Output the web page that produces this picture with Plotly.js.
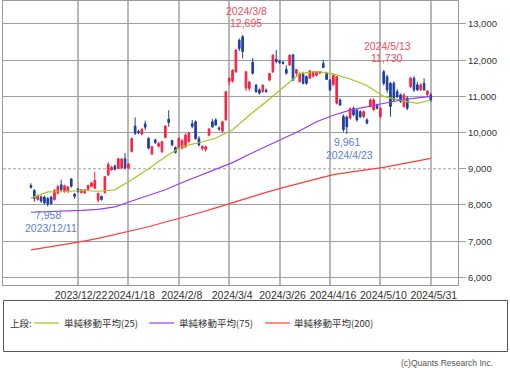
<!DOCTYPE html>
<html><head><meta charset="utf-8">
<script src="https://cdn.plot.ly/plotly-3.0.1.min.js"></script>
<style>html,body{margin:0;padding:0;background:#fff;}#chart{width:510px;height:368px;}</style>
</head><body><div id="chart"></div>
<script>
const dates = [
'2023-12-04','2023-12-05','2023-12-06','2023-12-07','2023-12-08','2023-12-11','2023-12-12','2023-12-13','2023-12-14','2023-12-15',
'2023-12-18','2023-12-19','2023-12-20','2023-12-21','2023-12-22','2023-12-25','2023-12-26','2023-12-27','2023-12-28','2023-12-29',
'2024-01-04','2024-01-05','2024-01-09','2024-01-10','2024-01-11','2024-01-12','2024-01-15','2024-01-16','2024-01-17','2024-01-18',
'2024-01-19','2024-01-22','2024-01-23','2024-01-24','2024-01-25','2024-01-26','2024-01-29','2024-01-30','2024-01-31','2024-02-01',
'2024-02-02','2024-02-05','2024-02-06','2024-02-07','2024-02-08','2024-02-09','2024-02-13','2024-02-14','2024-02-15','2024-02-16',
'2024-02-19','2024-02-20','2024-02-21','2024-02-22','2024-02-26','2024-02-27','2024-02-28','2024-02-29','2024-03-01','2024-03-04',
'2024-03-05','2024-03-06','2024-03-07','2024-03-08','2024-03-11','2024-03-12','2024-03-13','2024-03-14','2024-03-15','2024-03-18',
'2024-03-19','2024-03-21','2024-03-22','2024-03-25','2024-03-26','2024-03-27','2024-03-28','2024-03-29','2024-04-01','2024-04-02',
'2024-04-03','2024-04-04','2024-04-05','2024-04-08','2024-04-09','2024-04-10','2024-04-11','2024-04-12','2024-04-15','2024-04-16',
'2024-04-17','2024-04-18','2024-04-19','2024-04-22','2024-04-23','2024-04-24','2024-04-25','2024-04-26','2024-04-30','2024-05-01',
'2024-05-02','2024-05-07','2024-05-08','2024-05-09','2024-05-10','2024-05-13','2024-05-14','2024-05-15','2024-05-16','2024-05-17',
'2024-05-20','2024-05-21','2024-05-22','2024-05-23','2024-05-24','2024-05-27','2024-05-28','2024-05-29','2024-05-30','2024-05-31'];

const openP = [8540,8400,8150,8230,8220,8180,8220,8150,8320,8560, 8380,8370,8720,8300,8440,8340,8330,8420,8510,8460,
 8130,8240,8340,8830,8970,9080,9010,9020,9280,9020, 9480,10180,10030,9960,10240,9840,9410,9800,9620,9470,
 9870,10370,9780,9590,9570,9570,9610,9750,10250,10300, 9840,9560,9530,9930,10300,10350,10130,10040,10350,11400,
 11420,11680,12550,12650,11230,11220,11940,11310,11180,11130, 11170,11450,11680,12030,11980,11940,11750,11870,12150,11640,
 11410,11620,11550,11500,11560,11580,11640,11910,11640,11450, 11320,10810,10900,10450,10430,10400,10670,10620,10580,10440,
 10350,10720,10630,10760,10440,11680,11540,11360,11360,11130, 11040,10720,10950,11270,11500,11320,11180,11360,11050,11040];
const highP = [8600,8440,8290,8260,8260,8220,8250,8440,8560,8700, 8560,8530,8740,8330,8470,8440,8440,8560,8640,8920,
 8340,8260,8800,9180,9080,9120,9300,9300,9430,9160, 9860,10420,10080,10120,10330,9870,9640,9830,9740,9770,
 10200,10620,9800,9620,9870,9820,9980,10020,10350,10340, 9900,9650,9640,10120,10380,10400,10170,10330,11150,11520,
 11750,12300,12600,12695,11700,11420,12060,11340,11220,11330, 11220,11650,12150,12280,12010,11980,11860,12150,12160,11760,
 11660,11680,11580,11720,11690,11680,11700,12010,11680,11480, 11600,11560,10950,10500,10470,10700,10720,10650,10620,10610,
 10400,10940,10950,10800,10700,11730,11600,11400,11420,11200, 11080,11080,11000,11540,11560,11400,11360,11500,11180,11100];
const lowP = [8450,8090,8120,8060,8010,7958,8000,8120,8300,8380, 8340,8330,8480,8170,8340,8320,8310,8400,8490,8440,
 8070,8120,8320,8800,8950,8960,8990,8990,8990,8990, 9450,9930,9960,9920,10070,9540,9380,9690,9590,9440,
 9840,10160,9620,9420,9540,9540,9580,9720,10120,9800, 9620,9500,9470,9900,10130,10190,10050,10000,10330,11300,
 11380,11650,12250,12050,11150,11150,11600,11100,11050,11100, 11100,11420,11650,11910,11900,11880,11600,11840,11420,11560,
 11380,11330,11320,11480,11520,11550,11620,11780,11450,11150, 11300,10780,10740,10020,9961,10360,10450,10300,10400,10400,
 10230,10690,10600,10640,10400,11300,11100,10440,10850,10950, 10820,10680,10620,11230,11120,11150,11150,11150,11000,10850];
const closeP = [8490,8180,8260,8110,8060,8030,8040,8400,8510,8420, 8530,8500,8520,8240,8370,8420,8420,8540,8610,8680,
 8320,8150,8780,9120,9040,8990,9280,9270,9020,9130, 9840,9980,9990,10090,10150,9570,9610,9720,9700,9750,
 10180,10280,9660,9450,9840,9780,9930,9990,10170,9840, 9660,9620,9610,10100,10160,10210,10100,10300,11130,11500,
 11720,12280,12320,12240,11680,11400,11640,11130,11090,11310, 11130,11630,12140,11960,11940,11910,11640,12140,11450,11740,
 11640,11360,11360,11710,11680,11660,11680,11800,11470,11180, 11590,11540,10760,10080,10160,10660,10490,10350,10440,10580,
 10260,10900,10900,10670,10670,11360,11180,10720,10900,10990, 10860,11040,10670,11500,11180,11180,11320,11180,11140,10900];

const maIdx = [0,5,10,15,20,25,30,35,40,45,50,55,60,65,70,75,80,85,90,95,100,105,110,115,119];
const ma25  = [8190,8360,8370,8400,8380,8420,8700,9000,9330,9620,9720,9850,10080,10480,10850,11230,11630,11690,11620,11480,11300,11000,10890,10810,10900];
const ma75  = [7800,7810,7830,7850,7880,7950,8110,8270,8420,8620,8800,8980,9170,9400,9620,9830,10050,10300,10480,10620,10710,10820,10900,10960,11000];
const ma200 = [6760,6830,6910,6990,7080,7180,7280,7400,7530,7650,7780,7920,8070,8200,8350,8480,8600,8730,8840,8910,8970,9040,9130,9210,9290];

const tickDates = ['2023-12-22','2024-01-18','2024-02-08','2024-03-04','2024-03-26','2024-04-16','2024-05-10','2024-05-31'];
const yTicks = [6000,7000,8000,9000,10000,11000,12000,13000];
const marks = [
  {date:'2024-03-08', kind:'high'},
  {date:'2024-05-13', kind:'high'},
  {date:'2024-04-23', kind:'low'},
  {date:'2023-12-11', kind:'low'}
];
const legendNames = ['単純移動平均(25)','単純移動平均(75)','単純移動平均(200)'];
const maColors = ['#9ccc1c','#9a3cf0','#ff3c3c'];

const W=510,H=368,M={l:3,r:52,t:1,b:83};
const pw=W-M.l-M.r, ph=H-M.t-M.b;
const px=v=>(v-M.l)/pw, py=v=>(H-M.b-v)/ph;
const fmtDate=d=>{const p=d.split('-');return p[0]+'/'+(+p[1])+'/'+(+p[2]);};
const fmtNum=v=>v.toLocaleString('en-US');
const FONT='Liberation Sans, Arial, sans-serif';
const CJK='Noto Sans CJK JP, sans-serif';

const traces=[{
  type:'candlestick', x:dates, open:openP, high:highP, low:lowP, close:closeP,
  increasing:{line:{color:'#ff2040',width:1},fillcolor:'#ff2040'},
  decreasing:{line:{color:'#1f3f9f',width:1},fillcolor:'#1f3f9f'},
  whiskerwidth:0, showlegend:false, hoverinfo:'skip'
}];
[ma25,ma75,ma200].forEach((arr,k)=>{
  traces.push({type:'scatter',mode:'lines',x:maIdx.map(i=>dates[i]),y:arr,
    line:{color:maColors[k],width:1.2},showlegend:false,hoverinfo:'skip'});
});

const annotations=[];
marks.forEach(m=>{
  const i=dates.indexOf(m.date);
  const hi=m.kind==='high';
  const val=hi?highP[i]:lowP[i];
  const col=hi?'#f04d5e':'#5b80d8';
  const base={xref:'x',yref:'y',x:m.date,y:val,showarrow:false,font:{family:FONT,size:10.5,color:col},xanchor:'center',yanchor:'middle'};
  annotations.push(Object.assign({},base,{text:fmtNum(val),yshift:hi?12:-8,xshift:hi?3:0}));
  annotations.push(Object.assign({},base,{text:fmtDate(m.date),yshift:hi?24:-21,xshift:hi?4:3}));
});
annotations.push({xref:'paper',yref:'paper',x:px(8),y:py(323),xanchor:'left',yanchor:'middle',showarrow:false,text:'上段:',font:{family:CJK,size:9.5,color:'#333'}});
const legLineX=[34,149,265], legTextX=[62,177,292];
legendNames.forEach((n,k)=>{
  annotations.push({xref:'paper',yref:'paper',x:px(legTextX[k]),y:py(323),xanchor:'left',yanchor:'middle',showarrow:false,text:n,font:{family:CJK,size:9.5,color:'#333'}});
});
annotations.push({xref:'paper',yref:'paper',x:px(495),y:py(363),xanchor:'right',yanchor:'middle',showarrow:false,text:'(c)Quants Research Inc.',font:{family:FONT,size:8.5,color:'#555'}});

const shapes=[
  {type:'line',xref:'paper',yref:'y',x0:0,x1:1,y0:9000,y1:9000,layer:'below',line:{color:'#a0a0a0',width:1,dash:'3px,2px'}},
  {type:'rect',xref:'paper',yref:'paper',x0:px(3.5),x1:px(507.5),y0:py(300.5),y1:py(351.5),line:{color:'#555',width:1},fillcolor:'rgba(0,0,0,0)'}
];
legLineX.forEach((x0,k)=>{
  shapes.push({type:'line',xref:'paper',yref:'paper',x0:px(x0),x1:px(x0+25),y0:py(323),y1:py(323),line:{color:maColors[k],width:1.2}});
});

const yr=[5790,13635];
const layout={
  width:W,height:H,margin:M,paper_bgcolor:'#fff',plot_bgcolor:'#fff',
  font:{family:FONT,color:'#333'},showlegend:false,hovermode:false,
  xaxis:{type:'category',categoryorder:'trace',range:[-8.32,127.1],rangeslider:{visible:false},
    tickvals:tickDates,ticktext:tickDates.map(fmtDate),tickangle:0,ticks:'',ticklabelshift:3,
    showgrid:true,gridcolor:'#b8b8b8',gridwidth:2,showline:true,mirror:true,linecolor:'#999',linewidth:1,
    tickfont:{family:FONT,size:10.5,color:'#333'},zeroline:false,fixedrange:true},
  yaxis:{range:yr,side:'right',tickvals:yTicks,ticktext:yTicks.map(fmtNum),ticks:'outside',ticklen:7,tickcolor:'#a0a0a0',
    showgrid:false,showline:true,mirror:true,linecolor:'#999',linewidth:1,zeroline:false,
    tickfont:{family:FONT,size:9.5,color:'#333'},fixedrange:true},
  yaxis2:{range:yr,overlaying:'y',side:'right',tickvals:yTicks.filter(v=>v!==9000),showticklabels:false,ticks:'',
    showgrid:true,gridcolor:'#a0a0a0',gridwidth:1,zeroline:false,showline:false,fixedrange:true},
  annotations:annotations,shapes:shapes
};
traces.unshift({type:'scatter',x:[dates[0]],y:[yr[0]],yaxis:'y2',mode:'markers',marker:{opacity:0},showlegend:false,hoverinfo:'skip'});
Plotly.newPlot('chart',traces,layout,{staticPlot:true,displayModeBar:false});
</script></body></html>
